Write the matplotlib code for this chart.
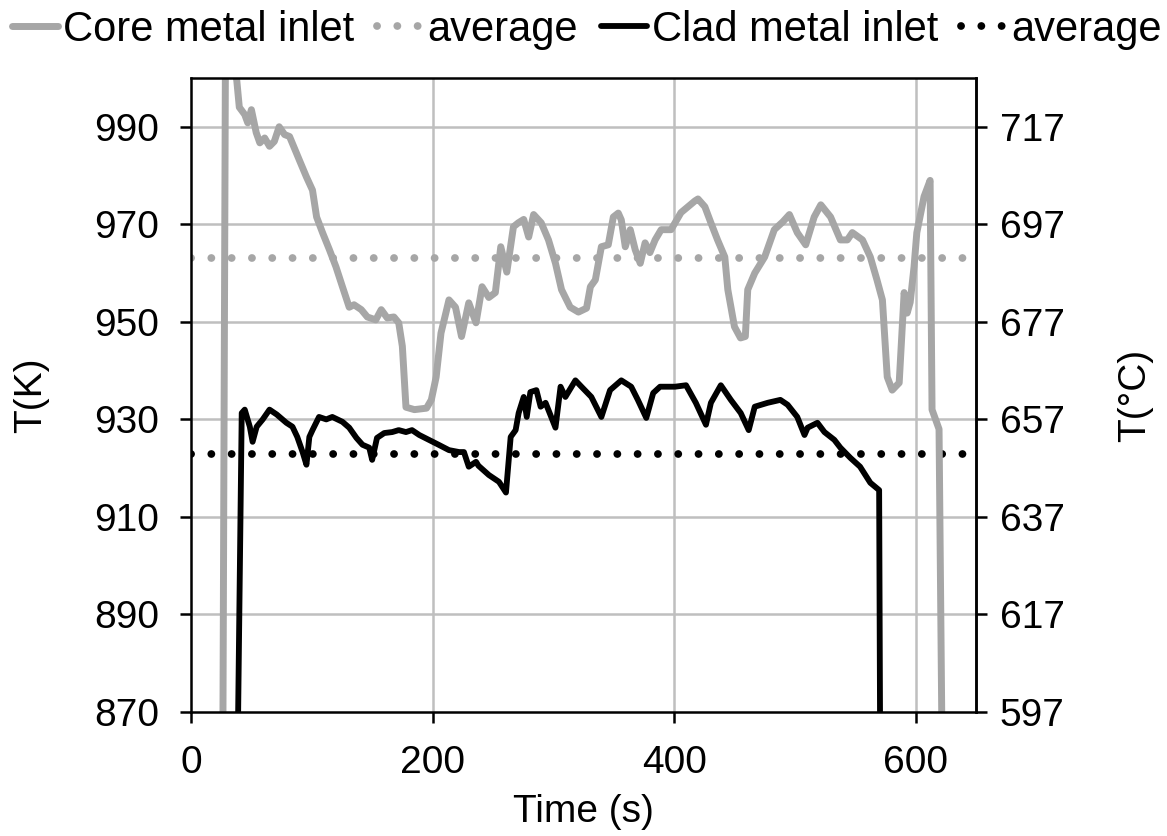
import matplotlib
matplotlib.use("Agg")
import matplotlib.pyplot as plt

plt.rcParams['font.family'] = ['Liberation Sans', 'DejaVu Sans']

# Core metal inlet temperature (K) vs time (s)
core_t = [26.4, 28.5, 34.0, 37.9, 40.0, 44.5, 47.0, 50.0, 54.0, 57.0, 61.0, 65.0, 69.0, 73.0,
          77.5, 81.6, 90.0, 95.6, 100.6, 104.0, 108.9, 114.6, 120.0, 125.4, 131.0, 135.0,
          141.0, 146.0, 153.0, 157.5, 162.5, 168.0, 172.0, 175.0, 178.0, 185.0, 195.0, 199.0,
          203.0, 207.0, 211.0, 213.6, 219.0, 224.0, 230.0, 236.0, 241.0, 246.6, 252.0, 256.5,
          261.5, 267.0, 271.0, 275.5, 279.6, 283.7, 290.0, 296.0, 301.8, 306.8, 314.0, 320.8,
          327.5, 330.7, 334.8, 339.8, 345.5, 349.7, 353.8, 356.3, 359.6, 363.7, 367.8, 372.0,
          376.0, 380.0, 384.3, 389.3, 397.5, 405.7, 411.5, 417.3, 419.8, 425.5, 430.5, 436.0,
          442.0, 444.5, 450.0, 455.0, 459.0, 461.0, 466.8, 475.0, 483.0, 490.0, 495.5, 502.0,
          509.0, 516.0, 521.5, 529.6, 537.7, 543.5, 547.6, 556.0, 562.5, 568.0, 572.5, 576.5,
          580.6, 586.4, 590.5, 593.0, 595.5, 598.7, 601.0, 607.0, 612.0, 613.6, 619.4, 621.8]
core_T = [865.0, 1004.0, 1005.0, 999.5, 994.0, 992.5, 990.8, 993.5, 988.8, 986.7, 987.7, 986.0,
          987.0, 990.0, 988.4, 988.0, 983.0, 979.7, 977.0, 971.5, 968.3, 964.8, 961.3, 957.2,
          953.0, 953.5, 952.5, 951.0, 950.4, 952.5, 950.8, 951.0, 949.8, 945.0, 932.5, 932.0,
          932.3, 934.0, 938.7, 947.7, 951.8, 954.5, 953.0, 947.0, 953.9, 949.8, 957.2, 955.0,
          956.0, 965.4, 960.2, 969.5, 970.3, 971.0, 967.4, 972.0, 970.3, 966.8, 962.0, 956.6,
          953.0, 952.0, 952.8, 957.2, 958.6, 965.4, 965.8, 971.5, 972.3, 970.9, 965.4, 968.9,
          964.8, 962.0, 966.2, 964.2, 966.8, 968.9, 968.9, 972.4, 973.6, 974.8, 975.2, 973.6,
          970.3, 966.8, 963.3, 956.6, 949.0, 946.7, 947.0, 956.6, 960.0, 963.3, 968.9, 970.5,
          972.0, 968.3, 965.8, 971.5, 974.0, 971.5, 966.8, 966.8, 968.3, 966.8, 963.3, 958.6,
          954.5, 938.7, 936.0, 937.5, 956.0, 951.8, 954.0, 961.3, 968.3, 975.7, 979.0, 932.0,
          928.0, 865.0]

# Clad metal inlet temperature (K) vs time (s)
clad_t = [38.8, 42.0, 44.5, 48.7, 51.0, 54.4, 59.4, 65.0, 71.0, 79.0, 84.0, 88.0, 92.4, 95.6,
          98.0, 100.6, 106.0, 112.0, 117.0, 125.4, 131.0, 137.0, 142.0, 147.6, 150.0, 154.0,
          160.0, 166.6, 172.0, 178.0, 183.0, 189.0, 197.0, 205.0, 213.6, 222.0, 226.0, 230.0,
          236.0, 238.0, 246.6, 255.0, 260.8, 264.7, 268.8, 271.3, 275.5, 278.0, 281.0, 286.0,
          289.5, 293.6, 301.8, 306.0, 310.0, 318.3, 323.3, 331.5, 339.8, 347.0, 356.3, 364.5,
          370.0, 377.0, 382.7, 388.4, 400.8, 409.9, 418.0, 426.4, 430.5, 438.7, 447.0, 455.2,
          461.8, 466.8, 477.5, 488.0, 494.0, 502.0, 508.0, 510.6, 518.7, 524.5, 532.7, 537.7,
          546.0, 554.0, 562.5, 569.8, 570.6]
clad_T = [865.0, 931.3, 932.0, 928.5, 925.4, 928.5, 930.0, 932.0, 931.0, 929.3, 928.5, 926.4,
          923.3, 920.7, 926.4, 927.8, 930.5, 930.0, 930.5, 929.5, 928.3, 926.2, 924.8, 924.2,
          921.7, 926.2, 927.2, 927.4, 927.8, 927.4, 927.8, 926.8, 925.8, 924.8, 923.7, 923.3,
          923.3, 920.3, 921.3, 920.5, 918.6, 917.2, 915.0, 926.4, 927.8, 931.3, 934.6, 930.5,
          935.6, 936.0, 932.6, 933.4, 928.3, 936.7, 934.6, 938.0, 936.7, 934.6, 930.5, 936.0,
          938.0, 936.7, 934.0, 930.3, 935.4, 936.7, 936.7, 937.0, 933.4, 928.9, 933.4, 937.0,
          934.0, 931.3, 927.8, 932.6, 933.4, 934.0, 933.0, 930.5, 926.8, 928.3, 929.3, 927.4,
          925.8, 924.2, 922.1, 920.3, 917.0, 915.5, 865.0]

core_avg = 963.0
clad_avg = 923.0
avg_span = [0, 650]

x_ticks = [0, 200, 400, 600]
yk_ticks = [870, 890, 910, 930, 950, 970, 990]
yc_ticks = [597, 617, 637, 657, 677, 697, 717]

GREY = '#a6a6a6'
GRID = '#bfbfbf'
FS = 28

fig = plt.figure(figsize=(11.67, 8.36), dpi=100)
ax = fig.add_axes([191/1167, 1-712/836, (976-191)/1167, (712-78)/836])

ax.set_xlim(0, 650)
ax.set_ylim(870, 1000)
ax.set_xticks(x_ticks)
ax.set_yticks(yk_ticks)
for xv in x_ticks[1:]:
    ax.axvline(xv, color=GRID, lw=1.8, zorder=0)
for yv in yk_ticks[1:]:
    ax.axhline(yv, color=GRID, lw=1.8, zorder=0)

l1, = ax.plot(core_t, core_T, color=GREY, lw=5.0, solid_joinstyle='round',
              solid_capstyle='round', zorder=3, label='Core metal inlet')
dots = (0, (0.01, 2.6))
l2, = ax.plot(avg_span, [core_avg, core_avg], color=GREY, lw=5.6, linestyle=dots,
              dash_capstyle='round', zorder=2, label='average')
l3, = ax.plot(clad_t, clad_T, color='black', lw=4.2, solid_joinstyle='round',
              solid_capstyle='round', zorder=4, label='Clad metal inlet')
l4, = ax.plot(avg_span, [clad_avg, clad_avg], color='black', lw=5.6, linestyle=dots,
              dash_capstyle='round', zorder=2, label='average')

for s in ax.spines.values():
    s.set_linewidth(1.8)
    s.set_color('black')
    s.set_zorder(5)
ax.tick_params(axis='both', direction='out', length=8, width=1.8, labelsize=FS)
ax.tick_params(axis='x', pad=16)
ax.tick_params(axis='y', pad=15)

ax.set_xlabel('Time (s)', fontsize=FS, labelpad=9)
ax.set_ylabel('T(K)', fontsize=FS, labelpad=32)

sec = ax.secondary_yaxis('right', functions=(lambda k: k - 273, lambda c: c + 273))
sec.set_yticks(yc_ticks)
sec.tick_params(direction='out', length=8, width=1.8, labelsize=FS, pad=9)
sec.spines['right'].set_linewidth(1.8)
sec.set_ylabel('T(°C)', fontsize=FS, labelpad=38)

fig.legend(handles=[l1, l2, l3, l4], loc='upper center', bbox_to_anchor=(0.503, 1.003),
           ncol=4, frameon=False, fontsize=30, handlelength=1.1, handletextpad=0.12,
           columnspacing=0.55, borderaxespad=0.1, borderpad=0.2)

fig.savefig('out.png', dpi=100)
